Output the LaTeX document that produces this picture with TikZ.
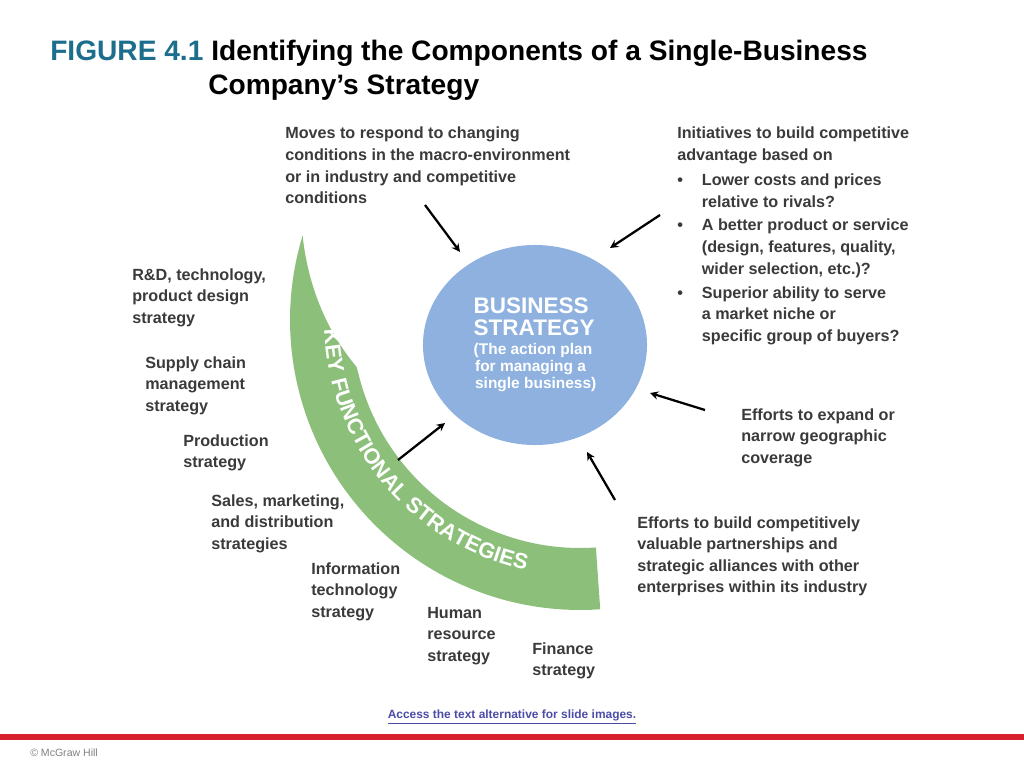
\documentclass[tikz,border=0pt]{standalone}
\usepackage{fontspec}
\setmainfont{Liberation Sans}
\usetikzlibrary{shapes.geometric, decorations.text}
\definecolor{figteal}{HTML}{1C6E8C}
\definecolor{bandgreen}{HTML}{8CC07A}
\definecolor{ballblue}{HTML}{8EB1DF}
\definecolor{txtgray}{HTML}{3A3A3A}
\definecolor{mhred}{HTML}{D7202E}
\definecolor{linkblue}{HTML}{4B4BA8}
\newcommand{\bigbf}{\fontsize{16}{19}\selectfont\bfseries}
\newcommand{\smallbf}{\fontsize{11}{15}\selectfont\bfseries}
\newcommand{\bul}{\makebox[17.5pt][l]{•}}
\tikzset{
  lbl/.style={anchor=north west, align=left, inner sep=0pt, text=txtgray,
    font=\fontsize{11.5}{15.3}\selectfont\bfseries},
  push/.style={-stealth, line width=1.6pt, black}
}
\begin{document}
\begin{tikzpicture}[x=0.025cm, y=-0.025cm]
  \useasboundingbox (0,0) rectangle (1024,768);
  % title
  \node[anchor=north west, align=left, inner sep=0pt, font=\fontsize{20}{24}\selectfont\bfseries] (title) at (50,40)
    {\textcolor{figteal}{FIGURE 4.1} Identifying the Components of a Single-Business\\
     \hspace*{3.95cm}Company’s Strategy};
  % green band
  \fill[bandgreen] plot[domain=197:86, samples=60] ({580+290*cos(\x)},{320+290*sin(\x)})
    -- plot[domain=86:196, samples=80] ({580+(228+60*max(0,(\x-168)/28))*cos(\x)},{320+(228+60*max(0,(\x-168)/28))*sin(\x)}) -- cycle;
  \path[postaction={decorate}, decoration={text along path, text align=center,
      text={|\fontsize{15.5}{15.5}\selectfont\bfseries\color{white}|KEY FUNCTIONAL STRATEGIES}}]
    plot[domain=182:98, samples=60] ({580+256*cos(\x)},{320+256*sin(\x)});
  % business strategy
  \node[ellipse, fill=ballblue, minimum width=5.6cm, minimum height=5cm, align=left, text=white] (biz) at (535,345)
    {\bigbf BUSINESS\\[3pt]\bigbf STRATEGY\\[2pt]\smallbf (The action plan\\\smallbf \hspace*{1pt}for managing a\\\smallbf \hspace*{1pt}single business)};
  % labels
  \node[lbl] (macro) at (285,127) {Moves to respond to changing\\conditions in the macro-environment\\or in industry and competitive\\conditions};
  \node[lbl] (adv) at (677,127) {Initiatives to build competitive\\advantage based on};
  \node[lbl] (b1) at (677,174) {\bul Lower costs and prices\\\hspace*{17.5pt}relative to rivals?};
  \node[lbl] (b2) at (677,219) {\bul A better product or service\\\hspace*{17.5pt}(design, features, quality,\\\hspace*{17.5pt}wider selection, etc.)?};
  \node[lbl] (b3) at (677,286) {\bul Superior ability to serve\\\hspace*{17.5pt}a market niche or\\\hspace*{17.5pt}specific group of buyers?};
  \node[lbl] (geo) at (741,408) {Efforts to expand or\\narrow geographic\\coverage};
  \node[lbl] (part) at (637,516) {Efforts to build competitively\\valuable partnerships and\\strategic alliances with other\\enterprises within its industry};
  \node[lbl] (rd) at (132,268) {R\&D, technology,\\product design\\strategy};
  \node[lbl] (supply) at (145,356) {Supply chain\\management\\strategy};
  \node[lbl] (prod) at (183,434) {Production\\strategy};
  \node[lbl] (sales) at (211,494) {Sales, marketing,\\and distribution\\strategies};
  \node[lbl] (it) at (311,562) {Information\\technology\\strategy};
  \node[lbl] (hr) at (427,607) {Human\\resource\\strategy};
  \node[lbl] (fin) at (532,642) {Finance\\strategy};
  % arrows
  \coordinate (m0) at (425,205); \coordinate (m1) at (460,252);
  \coordinate (a0) at (660,215); \coordinate (a1) at (610,248);
  \coordinate (g0) at (705,410); \coordinate (g1) at (650,393);
  \coordinate (p0) at (615,500); \coordinate (p1) at (587,452);
  \coordinate (f0) at (398,460); \coordinate (f1) at (445,423);
  \foreach \s/\e in {m0/m1, a0/a1, g0/g1, p0/p1, f0/f1}
    \draw[push] (\s) -- (\e);
  % footer
  \node[font=\fontsize{8.5}{10}\selectfont\bfseries, text=linkblue] (alt) at (512,717) {\underline{Access the text alternative for slide images.}};
  \fill[mhred] (0,734) rectangle (1024,740);
  \node[anchor=west, font=\fontsize{7.5}{9}\selectfont, text=gray, inner sep=0pt] (mh) at (30,753) {© McGraw Hill};
\end{tikzpicture}
\end{document}
